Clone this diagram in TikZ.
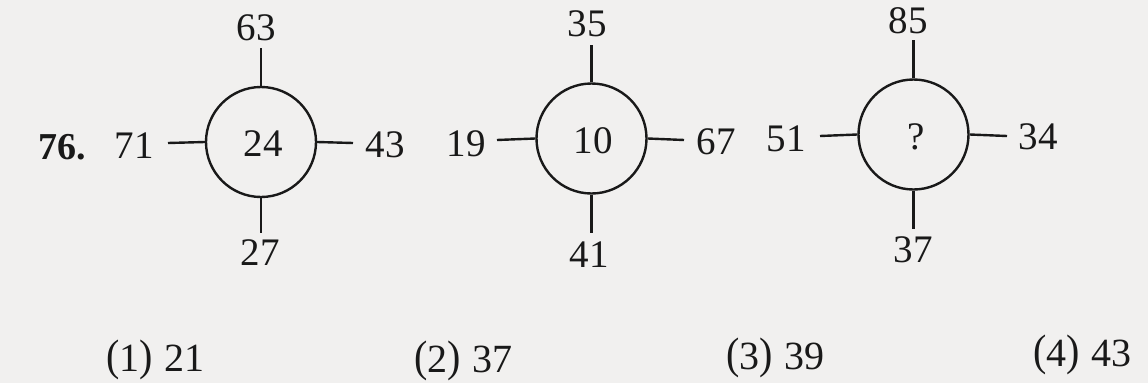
\documentclass[tikz,border=0pt]{standalone}
\usepackage{fontspec}
\setmainfont{Liberation Serif}
\definecolor{paper}{RGB}{241,240,239}
\definecolor{ink}{RGB}{25,25,25}
\newcommand{\tallp}[1]{\raisebox{0.8pt}{\scalebox{1}[1.1]{#1}}}
\newcommand{\optlabel}[2]{\tallp{(}#1\tallp{)}\hspace{0.3em}#2}
\tikzset{
  x=1pt, y=1pt,
  ring/.style={draw=ink, line width=2.4pt, circle, minimum size=110pt, inner sep=0pt},
  arm/.style={draw=ink, line width=2.4pt},
  num/.style={text=ink, inner sep=0pt, font=\fontsize{39}{41}\selectfont},
  opt/.style={text=ink, inner sep=0pt, anchor=base west, font=\fontsize{40}{42}\selectfont},
  qno/.style={text=ink, inner sep=0pt, font=\fontsize{38}{40}\selectfont\bfseries},
}
\begin{document}
\begin{tikzpicture}
\fill[paper] (0,0) rectangle (1148,-383);
\useasboundingbox (0,0) rectangle (1148,-383);

\node[qno] (q) at (62,-147) {76.};

% figure 1
\node[ring] (c1) at (261,-142) {};
\node[num] (c1in) at (263,-144) {24};
\coordinate (c1t) at (261,-48);
\coordinate (c1b) at (261,-233);
\coordinate (c1l) at (168,-143);
\coordinate (c1r) at (353,-143);
\draw[arm] (c1.north) -- (c1t);
\draw[arm] (c1.south) -- (c1b);
\draw[arm] (c1.west) -- (c1l);
\draw[arm] (c1.east) -- (c1r);
\node[num] (n63) at (256,-28) {63};
\node[num] (n27) at (260,-253) {27};
\node[num] (n71) at (134,-146) {71};
\node[num] (n43) at (385,-145) {43};

% figure 2
\node[ring] (c2) at (591.5,-138.5) {};
\node[num] (c2in) at (593,-141) {10};
\coordinate (c2t) at (591.5,-45);
\coordinate (c2b) at (591.5,-233);
\coordinate (c2l) at (497,-140);
\coordinate (c2r) at (684,-140);
\draw[arm] (c2.north) -- (c2t);
\draw[arm] (c2.south) -- (c2b);
\draw[arm] (c2.west) -- (c2l);
\draw[arm] (c2.east) -- (c2r);
\node[num] (n35) at (587,-24) {35};
\node[num] (n41) at (589,-255) {41};
\node[num] (n19) at (466,-144) {19};
\node[num] (n67) at (716,-142) {67};

% figure 3
\node[ring] (c3) at (913.5,-134.5) {};
\node[num] (c3in) at (916,-137) {?};
\coordinate (c3t) at (913.5,-40);
\coordinate (c3b) at (913.5,-229);
\coordinate (c3l) at (820,-136);
\coordinate (c3r) at (1007,-136);
\draw[arm] (c3.north) -- (c3t);
\draw[arm] (c3.south) -- (c3b);
\draw[arm] (c3.west) -- (c3l);
\draw[arm] (c3.east) -- (c3r);
\node[num] (n85) at (908,-21) {85};
\node[num] (n37) at (913,-250) {37};
\node[num] (n51) at (786,-139) {51};
\node[num] (n34) at (1038,-137) {34};

% options
\node[opt] (o1) at (106,-371) {\optlabel{1}{21}};
\node[opt] (o2) at (414,-372) {\optlabel{2}{37}};
\node[opt] (o3) at (726,-369) {\optlabel{3}{39}};
\node[opt] (o4) at (1033,-366) {\optlabel{4}{43}};
\end{tikzpicture}
\end{document}
